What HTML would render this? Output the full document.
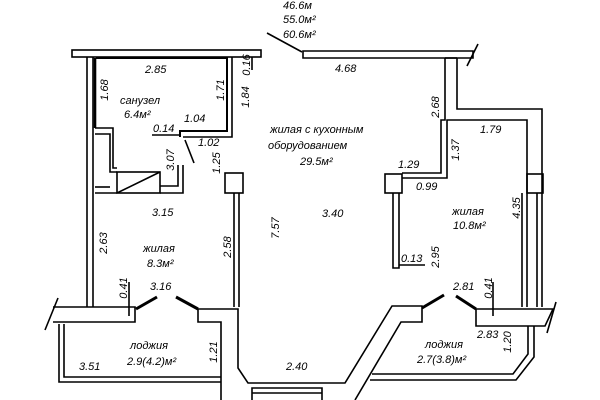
<!DOCTYPE html>
<html><head><meta charset="utf-8"><style>
html,body{margin:0;padding:0;background:#fff;width:600px;height:400px;overflow:hidden}
text{font-family:"Liberation Sans","DejaVu Sans",sans-serif;font-style:italic;font-size:11px;fill:#000}
.v{text-anchor:middle}
</style></head><body>
<svg width="600" height="400" viewBox="0 0 600 400" xmlns="http://www.w3.org/2000/svg">
<g fill="none" stroke="#000" stroke-width="1.6">
<rect x="72" y="50" width="189" height="7"/>
<path d="M303 58 L303 51 L473 51 L473 58 Z"/>
<line x1="467" y1="66" x2="478" y2="44"/>
<line x1="267" y1="33" x2="302" y2="52"/>
<line x1="252" y1="57" x2="252" y2="70"/>
<line x1="87" y1="57" x2="87" y2="307"/>
<line x1="93" y1="57" x2="93" y2="307"/>
<path d="M95 58 L95 128" stroke-width="2.6"/>
<path d="M96 58 L227 58 L227 131 L180 131 L180 137" stroke-width="2"/>
<path d="M232 57 L232 137 L183 137"/>
<line x1="152" y1="135" x2="180" y2="135"/>
<line x1="185" y1="140" x2="194" y2="163"/>
<path d="M95 128 L113 128 L113 168 L117 168"/>
<path d="M95 134 L110 134 L110 172 L117 172"/>
<rect x="117" y="172" width="43" height="21"/>
<line x1="117" y1="193" x2="160" y2="172"/>
<path d="M160 186 L178 186 L178 165 M183 165 L183 193 L160 193"/>
<line x1="95" y1="193" x2="117" y2="193"/>
<line x1="95" y1="187" x2="110" y2="187"/>
<rect x="225" y="173" width="18" height="20"/>
<rect x="385" y="174" width="17" height="19"/>
<rect x="527" y="174" width="16" height="19"/>
<line x1="234" y1="193" x2="234" y2="307"/>
<line x1="239" y1="193" x2="239" y2="307"/>
<path d="M53 307 L135 307 L135 322 L53 322"/>
<line x1="45" y1="330" x2="58" y2="298"/>
<line x1="136" y1="309" x2="157" y2="297" stroke-width="3"/>
<line x1="176" y1="297" x2="198" y2="309" stroke-width="3"/>
<path d="M198 309 L198 322 L221 322 L221 400"/>
<path d="M198 309 L238 309 L238 368 L248 383 L345 383 L392 306 L422 306 L422 322 L401 322 L355 400"/>
<line x1="422" y1="308" x2="444" y2="295" stroke-width="3"/>
<path d="M59 324 L59 382 L221 382 M64 324 L64 377 L221 377"/>
<path d="M252 400 L252 388 L322 388 L322 400"/>
<line x1="252" y1="393" x2="322" y2="393"/>
<line x1="456" y1="296" x2="476" y2="309" stroke-width="3"/>
<path d="M476 309 L553 309 L545 326 L476 326 Z"/>
<line x1="547" y1="333" x2="556" y2="302"/>
<path d="M528 326 L528 354 L513 374 L372 374 M534 326 L534 357 L516 380 L370 380"/>
<path d="M445 58 L445 120 L441 120 L441 173 L402 173 M402 178 L447 178 L447 120 L527 120 L527 307"/>
<path d="M457 58 L457 109 L542 109 L542 307 M537 193 L537 307"/>
<line x1="445" y1="58" x2="457" y2="58"/>
<path d="M393 193 L393 268 L399 268 L399 193"/>
<line x1="399" y1="265" x2="425" y2="265"/>
<line x1="522" y1="307" x2="522" y2="193"/>
<line x1="493" y1="282" x2="493" y2="316"/>
<line x1="129" y1="282" x2="129" y2="316"/>
</g>
<text x="283" y="9">46.6м</text>
<text x="283" y="23">55.0м²</text>
<text x="283" y="38">60.6м²</text>
<text x="145" y="73">2.85</text>
<text x="120" y="104">санузел</text>
<text x="124" y="118">6.4м²</text>
<text x="184" y="122">1.04</text>
<text x="153" y="132">0.14</text>
<text x="198" y="146">1.02</text>
<text x="335" y="72">4.68</text>
<text x="270" y="133">жилая с кухонным</text>
<text x="268" y="149">оборудованием</text>
<text x="300" y="165">29.5м²</text>
<text x="480" y="133">1.79</text>
<text x="398" y="168">1.29</text>
<text x="416" y="190">0.99</text>
<text x="152" y="216">3.15</text>
<text x="322" y="217">3.40</text>
<text x="452" y="215">жилая</text>
<text x="453" y="229">10.8м²</text>
<text x="143" y="252">жилая</text>
<text x="147" y="267">8.3м²</text>
<text x="401" y="262">0.13</text>
<text x="150" y="290">3.16</text>
<text x="453" y="290">2.81</text>
<text x="477" y="338">2.83</text>
<text x="130" y="349">лоджия</text>
<text x="127" y="365">2.9(4.2)м²</text>
<text x="425" y="348">лоджия</text>
<text x="417" y="363">2.7(3.8)м²</text>
<text x="79" y="370">3.51</text>
<text x="286" y="370">2.40</text>
<text class="v" transform="translate(250,65) rotate(-90)">0.16</text>
<text class="v" transform="translate(108,90) rotate(-90)">1.68</text>
<text class="v" transform="translate(224,90) rotate(-90)">1.71</text>
<text class="v" transform="translate(249,97) rotate(-90)">1.84</text>
<text class="v" transform="translate(174,160) rotate(-90)">3.07</text>
<text class="v" transform="translate(220,163) rotate(-90)">1.25</text>
<text class="v" transform="translate(439,107) rotate(-90)">2.68</text>
<text class="v" transform="translate(459,150) rotate(-90)">1.37</text>
<text class="v" transform="translate(520,208) rotate(-90)">4.35</text>
<text class="v" transform="translate(107,243) rotate(-90)">2.63</text>
<text class="v" transform="translate(231,247) rotate(-90)">2.58</text>
<text class="v" transform="translate(279,228) rotate(-90)">7.57</text>
<text class="v" transform="translate(127,288) rotate(-90)">0.41</text>
<text class="v" transform="translate(217,352) rotate(-90)">1.21</text>
<text class="v" transform="translate(439,257) rotate(-90)">2.95</text>
<text class="v" transform="translate(492,288) rotate(-90)">0.41</text>
<text class="v" transform="translate(511,342) rotate(-90)">1.20</text>
</svg>
</body></html>
